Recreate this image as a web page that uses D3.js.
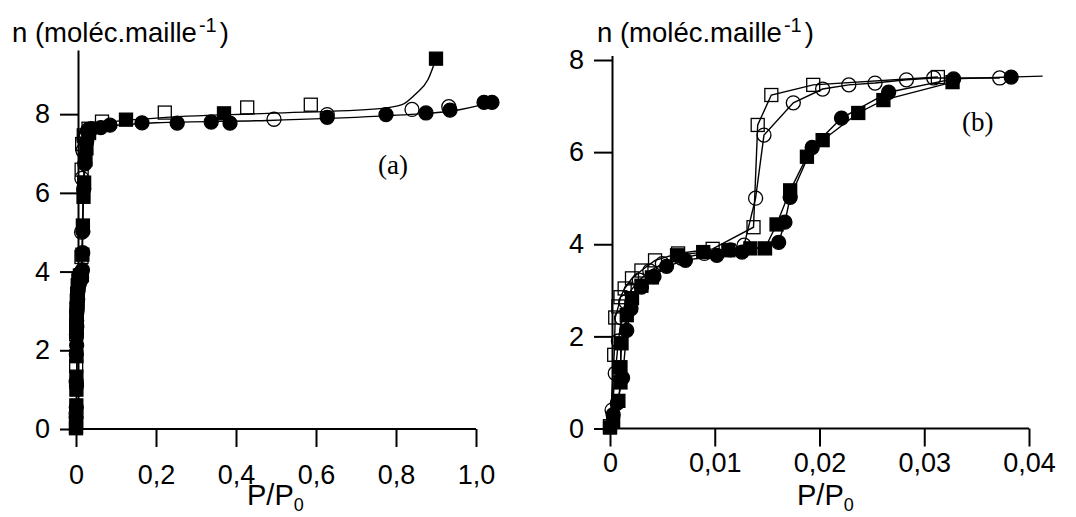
<!DOCTYPE html>
<html><head><meta charset="utf-8">
<script src="https://cdn.jsdelivr.net/npm/d3@7"></script>
<style>body{margin:0;background:#fff}svg{display:block}</style>
</head><body>
<svg id="chart" width="1076" height="517"></svg>
<script>
// ---------- DATA ----------
// Panel (b): low-pressure region  [P/P0, n]
const bFilledSquares = [[0,0.02],[0.0003,0.15],[0.0008,0.6],[0.001,1.0],[0.001,1.33],[0.0011,1.85],[0.0016,2.46],[0.0021,2.83],[0.003,3.1],[0.004,3.28],[0.0064,3.76],[0.0089,3.83],[0.0113,3.87],[0.0134,3.91],[0.0148,3.91],[0.0159,4.43],[0.0172,5.17],[0.0188,5.9],[0.0203,6.26],[0.0237,6.85],[0.0261,7.13],[0.0327,7.52]];
const bFilledCircles = [[0.0003,0.3],[0.0007,0.55],[0.0012,1.1],[0.0016,2.13],[0.002,2.6],[0.003,3.07],[0.0042,3.3],[0.0054,3.52],[0.0072,3.65],[0.0102,3.76],[0.0126,3.83],[0.0161,4.04],[0.0167,4.48],[0.0172,5.02],[0.0193,6.1],[0.0221,6.74],[0.0266,7.3],[0.0328,7.59],[0.0383,7.63]];
const bOpenSquares = [[0,0.05],[0.0004,1.6],[0.0005,2.41],[0.0008,2.65],[0.001,2.85],[0.0014,3.04],[0.0021,3.26],[0.003,3.43],[0.0043,3.65],[0.0065,3.8],[0.0098,3.9],[0.0137,4.37],[0.0141,6.59],[0.0154,7.24],[0.0194,7.46],[0.0313,7.63]];
const bOpenCircles = [[0.0002,0.4],[0.0005,1.2],[0.0008,1.9],[0.0011,2.4],[0.0015,2.75],[0.002,3.0],[0.0028,3.22],[0.0038,3.42],[0.005,3.58],[0.0068,3.7],[0.009,3.8],[0.0115,3.88],[0.0128,3.98],[0.0139,5.0],[0.0147,6.37],[0.0175,7.07],[0.0203,7.37],[0.0228,7.46],[0.0253,7.5],[0.0283,7.57],[0.0309,7.61],[0.0372,7.61]];
const bCircleLineEnd = [[0.0413,7.65]];

// Panel (a): additional points at higher pressure
const aFilledSquaresHigh = [[0.125,7.86],[0.37,8.02],[0.9,9.41]];
const aOpenSquaresHigh = [[0.065,7.81],[0.222,8.04],[0.428,8.17],[0.587,8.24]];
const aFilledCirclesHigh = [[0.062,7.66],[0.085,7.72],[0.165,7.78],[0.253,7.77],[0.338,7.8],[0.385,7.77],[0.628,7.92],[0.775,7.99],[0.875,8.03],[0.935,8.1],[1.02,8.3],[1.04,8.3]];
const aOpenCirclesHigh = [[0.495,7.87],[0.628,7.99],[0.84,8.12],[0.932,8.19]];
// Panel (a): fitted curves
const aFitSquares = [[0,0],[0.002,1.5],[0.004,3.0],[0.009,3.85],[0.014,4.3],[0.018,6.0],[0.025,7.3],[0.05,7.74],[0.2,7.9],[0.48,8.02],[0.76,8.14],[0.815,8.24],[0.85,8.52],[0.88,8.88],[0.9,9.41]];
const aFitCircles = [[0,0],[0.002,1.5],[0.004,3.0],[0.009,3.8],[0.015,4.1],[0.019,6.0],[0.03,7.4],[0.06,7.66],[0.2,7.78],[0.48,7.84],[0.76,7.95],[0.85,8.0],[0.94,8.08],[1.04,8.3]];

// Ticks
const aXTickValues = [0,0.2,0.4,0.6,0.8,1.0];
const aXTickLabels = ["0","0,2","0,4","0,6","0,8","1,0"];
const bXTickValues = [0,0.01,0.02,0.03,0.04];
const bXTickLabels = ["0","0,01","0,02","0,03","0,04"];
const yTickValues = [0,2,4,6,8];
const yTickLabels = ["0","2","4","6","8"];

// ---------- DRAW ----------
const svg = d3.select("#chart");
const SANS = "'Liberation Sans', Arial, sans-serif";
const SERIF = "'Liberation Serif', 'Times New Roman', serif";

function drawPanel(o) {
  const g = svg.append("g");
  const x = d3.scaleLinear().domain(o.xDomain).range(o.xRange);
  const y = d3.scaleLinear().domain(o.yDomain).range(o.yRange);
  const line = d3.line().x(d => x(d[0])).y(d => y(d[1])).curve(o.curve || d3.curveLinear);

  o.lines.forEach(L => {
    g.append("path").datum(L).attr("d", line)
      .attr("fill", "none").attr("stroke", "#000").attr("stroke-width", 1.4);
  });

  const S = 13, R = 7;
  function squares(data, filled) {
    g.append("g").selectAll("rect").data(data).join("rect")
      .attr("x", d => x(d[0]) - S / 2).attr("y", d => y(d[1]) - S / 2)
      .attr("width", S).attr("height", S)
      .attr("fill", filled ? "#000" : "none").attr("stroke", "#000").attr("stroke-width", 1.3);
  }
  function circles(data, filled) {
    g.append("g").selectAll("circle").data(data).join("circle")
      .attr("cx", d => x(d[0])).attr("cy", d => y(d[1])).attr("r", R)
      .attr("fill", filled ? "#000" : "none").attr("stroke", "#000").attr("stroke-width", 1.3);
  }
  squares(o.openSquares, false);
  circles(o.openCircles, false);
  circles(o.filledCircles, true);
  squares(o.filledSquares, true);

  // axes
  const xa = g.append("g").attr("transform", `translate(0,${y(0)})`)
    .call(d3.axisBottom(x).tickValues(o.xTicks).tickFormat((d, i) => o.xLabels[i])
      .tickSize(18).tickSizeOuter(0).tickPadding(o.xPad));
  xa.select(".domain").attr("d", `M${o.yAxisX},0H${o.xRange[1]}`);
  const ya = g.append("g").attr("transform", `translate(${o.yAxisX},0)`)
    .call(d3.axisLeft(y).tickValues(yTickValues).tickFormat((d, i) => yTickLabels[i])
      .tickSize(18).tickSizeOuter(0).tickPadding(o.yPad));
  [xa, ya].forEach(a => {
    a.selectAll(".domain, .tick line").attr("stroke", "#000").attr("stroke-width", 2);
    a.selectAll("text").attr("font-family", SANS).attr("font-size", 27).attr("fill", "#000");
  });

  // y title
  const t = g.append("text").attr("x", o.titleX).attr("y", 42)
    .attr("font-family", SANS).attr("fill", "#000");
  t.append("tspan").attr("font-size", 27.5).text("n (moléc.maille");
  t.append("tspan").attr("font-size", 20).attr("dx", 2).attr("dy", -10).text("-1");
  t.append("tspan").attr("font-size", 27.5).attr("dx", 3).attr("dy", 10).text(")");

  // x title
  const xt = g.append("text").attr("x", o.xTitleX).attr("y", 505)
    .attr("font-family", SANS).attr("fill", "#000");
  xt.append("tspan").attr("font-size", 29).text("P/P");
  xt.append("tspan").attr("font-size", 18).attr("dy", 6).text("0");

  g.append("text").attr("x", o.tagX).attr("y", o.tagY)
    .attr("font-family", SERIF).attr("font-size", 27).attr("fill", "#000").text(o.tag);
}

drawPanel({
  xDomain: [0, 1], xRange: [76, 476], yDomain: [0, 9.63], yRange: [429, 50],
  yAxisX: 78, xTicks: aXTickValues, xLabels: aXTickLabels, xPad: 18, yPad: 10,
  lines: [aFitSquares, aFitCircles], curve: d3.curveMonotoneX,
  filledSquares: bFilledSquares.concat(aFilledSquaresHigh),
  openSquares: bOpenSquares.concat(aOpenSquaresHigh),
  filledCircles: bFilledCircles.concat(aFilledCirclesHigh),
  openCircles: bOpenCircles.concat(aOpenCirclesHigh),
  titleX: 12, xTitleX: 247, tag: "(a)", tagX: 378, tagY: 174
});

drawPanel({
  xDomain: [0, 0.04], xRange: [610, 1029], yDomain: [0, 8.1], yRange: [428.5, 55.4],
  yAxisX: 612, xTicks: bXTickValues, xLabels: bXTickLabels, xPad: 6, yPad: 10,
  lines: [bOpenSquares, bOpenCircles, bFilledSquares, bFilledCircles.concat(bCircleLineEnd)],
  filledSquares: bFilledSquares, openSquares: bOpenSquares,
  filledCircles: bFilledCircles, openCircles: bOpenCircles,
  titleX: 597, xTitleX: 797, tag: "(b)", tagX: 962, tagY: 131
});
</script>
</body></html>
